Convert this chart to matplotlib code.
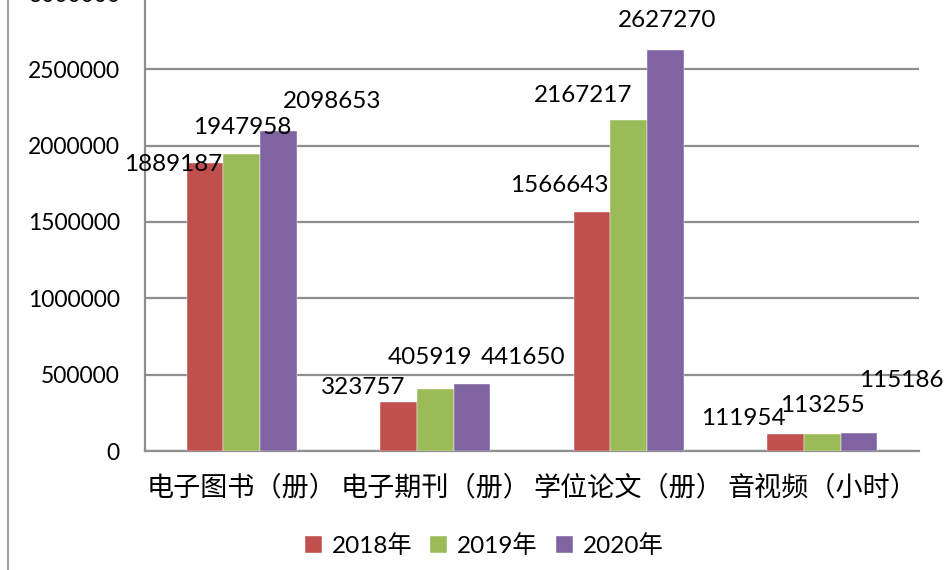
import matplotlib
matplotlib.use("Agg")
import matplotlib.pyplot as plt
import numpy as np
from matplotlib.lines import Line2D

plt.rcParams['font.family'] = ['Lato', 'Noto Sans CJK SC', 'DejaVu Sans']

categories = ['电子图书（册）', '电子期刊（册）', '学位论文（册）', '音视频（小时）']
series_names = ['2018年', '2019年', '2020年']
values_2018 = [1889187, 323757, 1566643, 111954]
values_2019 = [1947958, 405919, 2167217, 113255]
values_2020 = [2098653, 441650, 2627270, 115186]
yticks = [0, 500000, 1000000, 1500000, 2000000, 2500000, 3000000]

series = [values_2018, values_2019, values_2020]
colors = ['#C0504D', '#9BBB59', '#8064A2']
# label center offsets in pixels (dx, dy up) relative to bar top center
label_offsets = [
    [(-32, -2), (-35, 14), (-33, 26), (-42, 15)],
    [(0, 26), (-5, 32), (-46, 25), (0, 28)],
    [(54, 29), (51, 26), (2, 29), (42, 53)],
]

W, H = 945, 570
fig = plt.figure(figsize=(W / 100, H / 100), dpi=100)
left, right, ybot, ytop = 145, 919, 451, -7
ax = fig.add_axes([left / W, 1 - ybot / H, (right - left) / W, (ybot - ytop) / H])

x = np.arange(len(categories))
bw = 0.19
for i, (vals, c) in enumerate(zip(series, colors)):
    xs = x + (i - 1) * bw
    ax.bar(xs, vals, width=bw, color=c, label=series_names[i], zorder=3,
           edgecolor='white', linewidth=0.3)
    for j, v in enumerate(vals):
        dx, dy = label_offsets[i][j]
        ax.annotate(str(v), (xs[j], v), xytext=(dx * 0.72, dy * 0.72),
                    textcoords='offset points', ha='center', va='center',
                    fontsize=17.5, color='black', zorder=4)

ax.set_xlim(-0.5, len(categories) - 0.5)
ax.set_ylim(0, 3000000)
ax.set_yticks(yticks)
ax.set_yticklabels([str(t) for t in yticks])
ax.set_xticks(x)
ax.set_xticklabels(categories, family=['Noto Sans CJK SC'], fontsize=19.5)
ax.tick_params(axis='y', length=0, pad=18, labelsize=16.5)
ax.tick_params(axis='x', length=0, pad=17)
ax.yaxis.grid(True, color='#8e8e8e', linewidth=1.6, zorder=0)
ax.set_axisbelow(True)
for s in ['top', 'right']:
    ax.spines[s].set_visible(False)
for s in ['left', 'bottom']:
    ax.spines[s].set_color('#8e8e8e')
    ax.spines[s].set_linewidth(1.6)

# chart area border on the left
fig.add_artist(Line2D([8 / W, 8 / W], [0, 1], transform=fig.transFigure,
                      color='#8e8e8e', linewidth=1.2))

leg = fig.legend(loc='center', bbox_to_anchor=(484 / W, 1 - 546 / H), ncol=3,
                 frameon=False, handlelength=0.7, handleheight=0.7,
                 handletextpad=0.4, columnspacing=0.75,
                 prop={'family': ['Lato', 'Noto Sans CJK SC'], 'size': 17.5})

fig.savefig('out.png', dpi=100)
